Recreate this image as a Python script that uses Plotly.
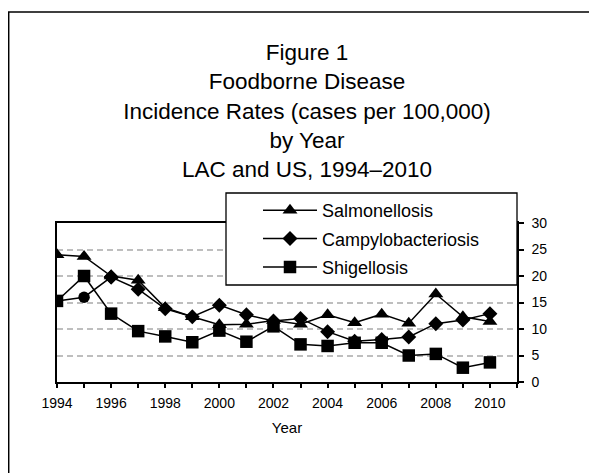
import plotly.graph_objects as go

years = list(range(1994, 2011))
salmonellosis = [24.0, 23.7, 20.0, 19.2, 14.0, 12.3, 10.8, 10.9, 11.6, 10.9, 12.7, 11.2, 12.8, 11.1, 16.6, 12.3, 11.4]
campylobacteriosis = [15.3, 16.0, 19.8, 17.5, 13.8, 12.3, 14.5, 12.7, 11.5, 12.0, 9.5, 7.7, 8.0, 8.5, 11.0, 11.7, 12.9]
shigellosis = [15.3, 20.0, 12.9, 9.6, 8.6, 7.5, 9.7, 7.6, 10.5, 7.1, 6.8, 7.4, 7.4, 5.0, 5.3, 2.7, 3.7]
campy_circle_years = 2  # first two campylobacteriosis points are drawn as circles

x_tickvals = list(range(1994, 2012))
x_ticktext = [str(y) if (y % 2 == 0 and y <= 2010) else "" for y in x_tickvals]

title_lines = ["Figure 1", "Foodborne Disease", "Incidence Rates (cases per 100,000)", "by Year", "LAC and US, 1994\u20132010"]

FONT = "Liberation Sans, Arial, sans-serif"
LINE = dict(color="black", width=1.5)

fig = go.Figure()
fig.add_trace(go.Scatter(x=years, y=salmonellosis, name="Salmonellosis", mode="lines+markers",
                         legendgroup="a", line=LINE,
                         marker=dict(symbol="triangle-up", size=13, color="black", opacity=1,
                                     line=dict(width=0))))
# early part of campylobacteriosis (circle markers), joined to the rest of the series
k = campy_circle_years
fig.add_trace(go.Scatter(x=years[:k + 1], y=campylobacteriosis[:k + 1], name="Campylobacteriosis",
                         mode="lines+markers", legendgroup="b", showlegend=False, line=LINE,
                         marker=dict(symbol=["circle"] * k + ["diamond"], size=11.5, color="black",
                                     opacity=1, line=dict(width=0))))
fig.add_trace(go.Scatter(x=years[k:], y=campylobacteriosis[k:], name="Campylobacteriosis",
                         mode="lines+markers", legendgroup="b", line=LINE,
                         marker=dict(symbol="diamond", size=11.5, color="black", opacity=1,
                                     line=dict(width=0))))
fig.add_trace(go.Scatter(x=years, y=shigellosis, name="Shigellosis", mode="lines+markers",
                         legendgroup="c", line=LINE,
                         marker=dict(symbol="square", size=12.5, color="black", opacity=1,
                                     line=dict(width=0))))

OFF = 8  # page body margin
W, H = 597 - OFF, 473 - OFF
L, T = 57 - OFF, 223 - OFF
R = W - (517 - OFF)
B = H - (382 - OFF)
pw, ph = W - L - R, H - T - B


def px_x(p):
    return (p - OFF - L) / pw


def px_y(p):
    return (H - B - (p - OFF)) / ph


fig.update_layout(
    width=W, height=H,
    margin=dict(l=L, r=R, t=T, b=B, pad=0),
    paper_bgcolor="white", plot_bgcolor="white",
    font=dict(family=FONT, color="black", size=14),
    title=dict(text="<br>".join(title_lines), x=(307 - OFF) / W, xanchor="center",
               y=1 - 52 / H, yanchor="top", yref="container",
               font=dict(family=FONT, size=22.5, color="black")),
    showlegend=True,
    legend=dict(x=px_x(258), y=px_y(192), xanchor="left", yanchor="top",
                bgcolor="rgba(0,0,0,0)", borderwidth=0,
                font=dict(family=FONT, size=18, color="black"),
                itemwidth=54, tracegroupgap=2, traceorder="grouped"),
    xaxis=dict(range=[1994, 2011], tickvals=x_tickvals, ticktext=x_ticktext,
               showline=True, linecolor="black", linewidth=1.5, mirror=True,
               ticks="outside", ticklen=4, tickcolor="black", tickwidth=1.5,
               showgrid=False, zeroline=False, ticklabelstandoff=3,
               tickfont=dict(size=14),
               title=dict(text="Year", font=dict(size=15), standoff=13)),
    yaxis=dict(range=[0, 30], dtick=5, side="right",
               showline=True, linecolor="black", linewidth=1.5, mirror=True,
               ticks="outside", ticklen=5, tickcolor="black", tickwidth=1.5,
               showgrid=True, gridcolor="#BEBEBE", gridwidth=1.5, griddash="6px,4px",
               zeroline=False, ticklabelstandoff=5, tickfont=dict(size=14)),
    shapes=[
        dict(type="rect", xref="paper", yref="paper",
             x0=px_x(8.7), x1=px_x(640), y0=px_y(520), y1=px_y(12),
             line=dict(color="black", width=1.5), fillcolor="rgba(0,0,0,0)", layer="below"),
        dict(type="rect", xref="paper", yref="paper",
             x0=px_x(226), x1=1, y0=px_y(285), y1=px_y(193),
             line=dict(color="black", width=1.3), fillcolor="white", layer="above"),
    ],
)

fig.write_html("out.html")
